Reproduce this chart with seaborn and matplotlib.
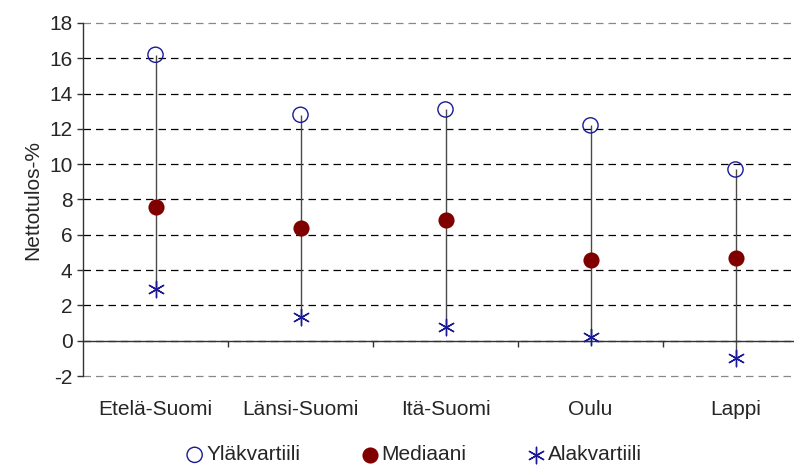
import pandas as pd
import seaborn as sns
import matplotlib.pyplot as plt
from matplotlib.ticker import FixedLocator

regions = ["Etelä-Suomi", "Länsi-Suomi", "Itä-Suomi", "Oulu", "Lappi"]
ylakvartiili = [16.2, 12.8, 13.1, 12.2, 9.7]
mediaani = [7.6, 6.4, 6.85, 4.55, 4.7]
alakvartiili = [2.95, 1.35, 0.75, 0.2, -1.0]

df = pd.DataFrame({"alue": regions, "yla": ylakvartiili,
                   "med": mediaani, "ala": alakvartiili})

sns.set_style("white")
plt.rcParams['font.family'] = ['Liberation Sans', 'DejaVu Sans']
plt.rcParams['axes.unicode_minus'] = False

navy = "#1a1a96"
darkred = "#800000"
fs = 15

fig = plt.figure(figsize=(7.94, 4.66), dpi=100)
# plot area continues past the right edge, like in the original
ax = fig.add_axes([83 / 794, 90 / 466, 725 / 794, 353 / 466])

# range lines between quartiles
ax.vlines(df["alue"], df["ala"], df["yla"], color="#4a4a4a", linewidth=1, zorder=2)

sns.scatterplot(data=df, x="alue", y="yla", ax=ax, marker="o", s=120,
                facecolors="none", edgecolors=navy, linewidth=1,
                label="Yläkvartiili", zorder=3)
sns.scatterplot(data=df, x="alue", y="med", ax=ax, marker="o", s=135,
                color=darkred, edgecolor=darkred, linewidth=0,
                label="Mediaani", zorder=3)
sns.scatterplot(data=df, x="alue", y="ala", ax=ax, marker=(6, 2, 0), s=140,
                color=navy, linewidth=1, label="Alakvartiili", zorder=3)

ax.set_xlim(-0.5, len(regions) - 0.5)
ax.set_ylim(-2, 18)
ax.set_yticks(range(-2, 19, 2))

# dashed horizontal gridlines
ax.yaxis.grid(True, linestyle=(0, (6, 4)), color="black", linewidth=0.9)
ax.xaxis.grid(False)
ax.set_axisbelow(True)
glines = ax.get_ygridlines()
for g in (glines[0], glines[-1]):
    g.set_color("#888888")
    g.set_clip_on(False)

# axis lines
for side in ["top", "right"]:
    ax.spines[side].set_visible(False)
ax.spines["left"].set_color("#333333")
ax.spines["left"].set_linewidth(1)
ax.spines["bottom"].set_position(("data", 0))
ax.spines["bottom"].set_color("#333333")
ax.spines["bottom"].set_linewidth(1)

ax.xaxis.set_minor_locator(FixedLocator([i + 0.5 for i in range(len(regions))]))
ax.tick_params(axis="x", which="major", length=0, pad=43, labelsize=fs)
ax.tick_params(axis="x", which="minor", length=4, width=1, color="#333333",
               direction="out", bottom=True)
ax.tick_params(axis="y", length=4.5, width=1, color="#333333", direction="out",
               left=True, labelsize=fs, pad=3)

ax.set_xlabel("")
ax.set_ylabel("Nettotulos-%", fontsize=fs, labelpad=5)

ax.legend_.remove()
handles, labels = ax.get_legend_handles_labels()
fig.legend(handles, labels, loc="center", bbox_to_anchor=(0.522, 0.024),
           ncol=3, frameon=False, fontsize=fs, handlelength=0.7,
           handletextpad=0.2, columnspacing=3.0, markerscale=1.0)

plt.savefig("out.png", dpi=100)
plt.close()
